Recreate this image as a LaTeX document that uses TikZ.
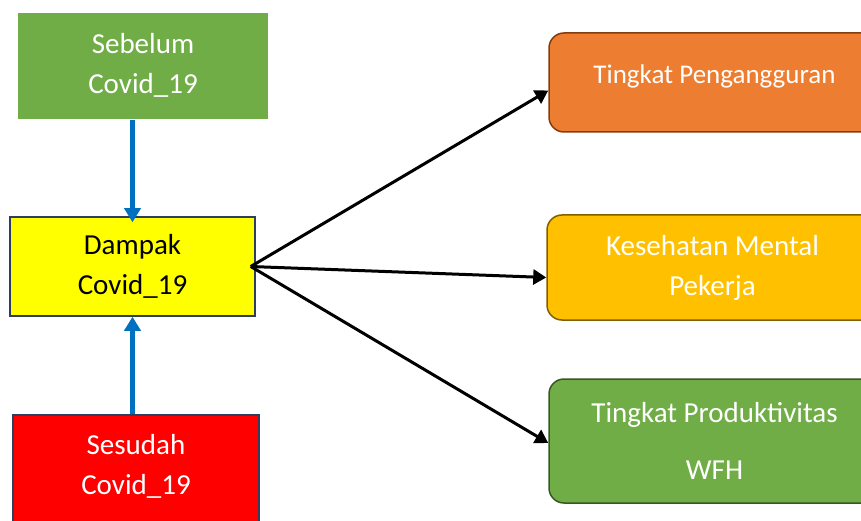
\documentclass[tikz,border=0pt]{standalone}
\usepackage{fontspec}
\setmainfont{Carlito}
\usetikzlibrary{arrows.meta, positioning, calc}
\definecolor{befgreen}{RGB}{112, 173, 71}
\definecolor{effyellow}{RGB}{255, 255, 0}
\definecolor{aftred}{RGB}{255, 0, 0}
\definecolor{navyline}{RGB}{47, 62, 92}
\definecolor{joborange}{RGB}{237, 125, 49}
\definecolor{jobbrown}{RGB}{132, 60, 12}
\definecolor{mentgold}{RGB}{255, 192, 0}
\definecolor{mentbrown}{RGB}{127, 96, 0}
\definecolor{proddark}{RGB}{56, 87, 35}
\definecolor{flowblue}{RGB}{0, 112, 192}
\newcommand{\boxfont}{\fontsize{29pt}{40pt}\selectfont}

\begin{document}
\begin{tikzpicture}[x=1pt, y=-1pt,
  periodbox/.style={minimum width=248pt, minimum height=102pt, inner sep=0pt,
    align=center, font=\boxfont, line width=1.5pt},
  effectbox/.style={minimum width=331pt, inner sep=0pt, rounded corners=15pt,
    align=center, font=\boxfont, text=white, line width=1.5pt},
  upflow/.style={flowblue, line width=5pt, -{Triangle[length=14pt, width=16pt]}},
  outflow/.style={black, line width=3pt, -{Triangle[length=13pt, width=15pt]}}
]
  \useasboundingbox (0, 0) rectangle (861, 521);

  % === left column ===
  \node[periodbox, fill=befgreen, text=white, minimum width=250pt, minimum height=106pt]
    (before) at (143, 66) {Sebelum\\Covid\_19\\[-34pt]};
  \node[periodbox, fill=effyellow, draw=navyline, text=black, minimum width=245pt, minimum height=99pt]
    (impact) at (132.5, 266.5) {Dampak\\Covid\_19};
  \node[periodbox, fill=aftred, draw=navyline, text=white, minimum width=246pt, minimum height=116pt]
    (after) at (136, 473) {Sesudah\\Covid\_19\\[-22pt]};

  % === right column ===
  \node[effectbox, fill=joborange, draw=jobbrown, minimum height=99pt, font=\fontsize{27pt}{40pt}\selectfont]
    (unemp) at (714.5, 82.5) {Tingkat Pengangguran\\[-23pt]};
  \node[effectbox, fill=mentgold, draw=mentbrown, minimum height=105pt]
    (mental) at (712.5, 267.5) {Kesehatan Mental\\Pekerja};
  \node[effectbox, fill=befgreen, draw=proddark, minimum height=124pt]
    (product) at (714.5, 441) {Tingkat Produktivitas\\[17pt]WFH};

  % === arrows ===
  \draw[upflow] (before.south -| impact) -- ([yshift=-6pt]impact.north);
  \draw[upflow] (after.north -| impact) -- (impact.south);
  \draw[outflow] ([xshift=-5pt]impact.east) -- ([yshift=-8pt]unemp.west);
  \draw[outflow] ([xshift=-5pt]impact.east) -- ([yshift=-10pt]mental.west);
  \draw[outflow] ([xshift=-5pt]impact.east) -- ([yshift=-2pt]product.west);
\end{tikzpicture}
\end{document}
